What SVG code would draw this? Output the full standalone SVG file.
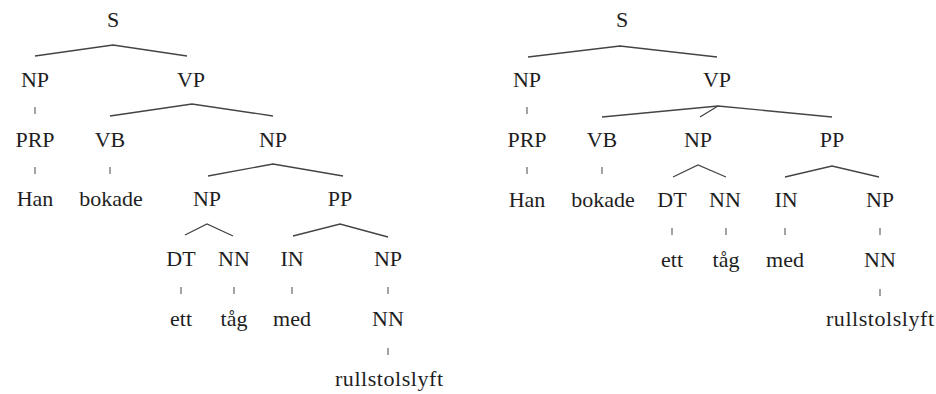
<svg xmlns="http://www.w3.org/2000/svg" width="936" height="394" viewBox="0 0 936 394" font-family="'Liberation Serif', 'Times New Roman', serif" font-size="22">
<style>
text{font-family:'Liberation Serif','Times New Roman',serif;font-size:22px;fill:#1e1e1e;text-anchor:middle}
.c line,.c polyline{stroke:#444;stroke-width:1.3;fill:none}
.c .t{stroke:#666;stroke-width:1.2}
</style>
<rect width="936" height="394" fill="#fff"/>
<g class="c" id="connectors">
<polyline points="35,56 113,45 187,56"/>
<line class="t" x1="35" y1="107" x2="35" y2="114"/>
<polyline points="110,116 192,104 273,116"/>
<line class="t" x1="35" y1="167" x2="35" y2="174"/>
<line class="t" x1="110" y1="167" x2="110" y2="174"/>
<polyline points="208,176 273,164 343,176"/>
<polyline points="185,235 207,224 233,236"/>
<polyline points="293,236 340,224 388,237"/>
<line class="t" x1="181" y1="287" x2="181" y2="294"/>
<line class="t" x1="234" y1="287" x2="234" y2="294"/>
<line class="t" x1="292" y1="287" x2="292" y2="294"/>
<line class="t" x1="388" y1="287" x2="388" y2="294"/>
<line class="t" x1="388" y1="348" x2="388" y2="355"/>
<polyline points="528,57 620,46 717,57"/>
<line class="t" x1="527" y1="107" x2="527" y2="114"/>
<polyline points="602,117 718,106 832,117"/>
<line x1="718" y1="106" x2="700" y2="117"/>
<line class="t" x1="527" y1="167" x2="527" y2="174"/>
<line class="t" x1="602" y1="167" x2="602" y2="174"/>
<polyline points="673,177 698,165 726,177"/>
<polyline points="785,177 832,166 879,177"/>
<line class="t" x1="672" y1="228" x2="672" y2="235"/>
<line class="t" x1="726" y1="228" x2="726" y2="235"/>
<line class="t" x1="785" y1="228" x2="785" y2="235"/>
<line class="t" x1="880" y1="228" x2="880" y2="235"/>
<line class="t" x1="880" y1="289" x2="880" y2="296"/>
</g>
<g id="L_S"><text x="113" y="27">S</text></g>
<g id="L_NP1"><text x="35" y="87">NP</text></g>
<g id="L_VP"><text x="191" y="87">VP</text></g>
<g id="L_PRP"><text x="35" y="147">PRP</text></g>
<g id="L_VB"><text x="110" y="147">VB</text></g>
<g id="L_NP2"><text x="273" y="147">NP</text></g>
<g id="L_Han"><text x="35" y="206">Han</text></g>
<g id="L_bokade"><text x="111" y="206">bokade</text></g>
<g id="L_NP3"><text x="207" y="206">NP</text></g>
<g id="L_PP"><text x="340" y="206">PP</text></g>
<g id="L_DT"><text x="181" y="266">DT</text></g>
<g id="L_NN1"><text x="234" y="266">NN</text></g>
<g id="L_IN"><text x="292" y="266">IN</text></g>
<g id="L_NP4"><text x="388" y="266">NP</text></g>
<g id="L_ett"><text x="181" y="326">ett</text></g>
<g id="L_tag"><text x="234" y="326">tåg</text></g>
<g id="L_med"><text x="292" y="326">med</text></g>
<g id="L_NN2"><text x="388" y="326">NN</text></g>
<g id="L_rull"><text x="389" y="386" textLength="108" lengthAdjust="spacing">rullstolslyft</text></g>
<g id="R_S"><text x="622" y="27">S</text></g>
<g id="R_NP1"><text x="527" y="87">NP</text></g>
<g id="R_VP"><text x="717" y="87">VP</text></g>
<g id="R_PRP"><text x="527" y="147">PRP</text></g>
<g id="R_VB"><text x="602" y="147">VB</text></g>
<g id="R_NP2"><text x="698" y="147">NP</text></g>
<g id="R_PP"><text x="832" y="147">PP</text></g>
<g id="R_Han"><text x="527" y="207">Han</text></g>
<g id="R_bokade"><text x="603" y="207">bokade</text></g>
<g id="R_DT"><text x="672" y="207">DT</text></g>
<g id="R_NN1"><text x="725" y="207">NN</text></g>
<g id="R_IN"><text x="786" y="207">IN</text></g>
<g id="R_NP3"><text x="880" y="207">NP</text></g>
<g id="R_ett"><text x="672" y="267">ett</text></g>
<g id="R_tag"><text x="726" y="267">tåg</text></g>
<g id="R_med"><text x="785" y="267">med</text></g>
<g id="R_NN2"><text x="880" y="267">NN</text></g>
<g id="R_rull"><text x="880" y="326" textLength="108" lengthAdjust="spacing">rullstolslyft</text></g>
</svg>
